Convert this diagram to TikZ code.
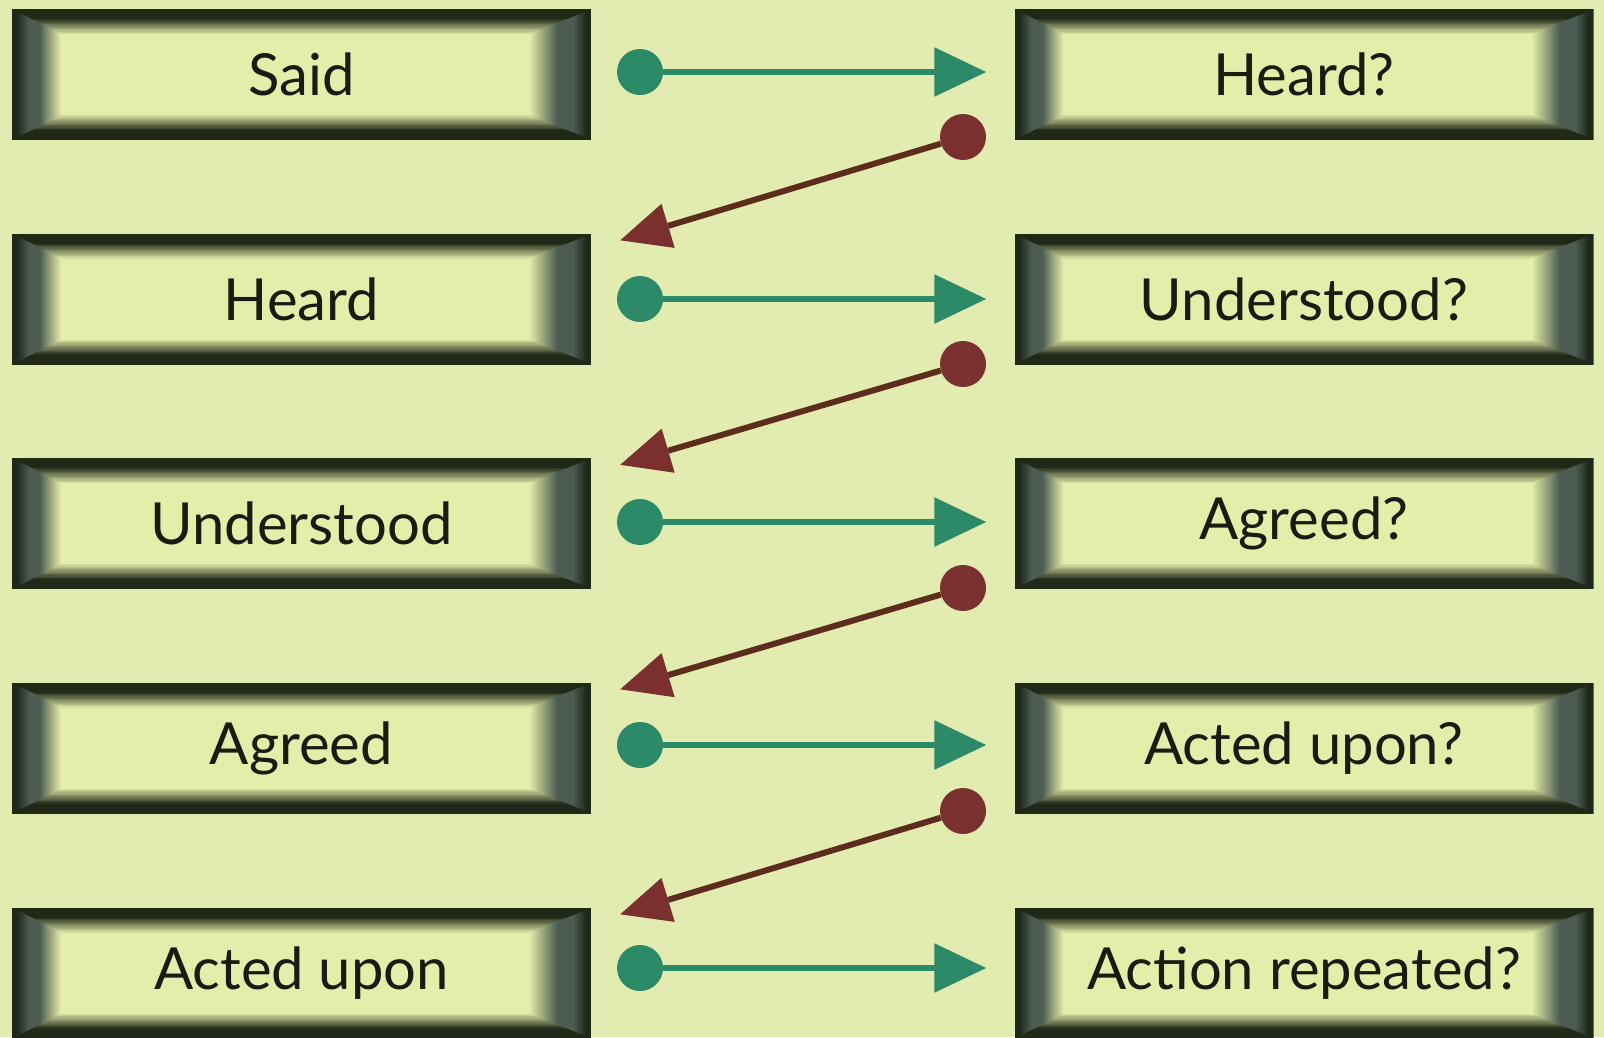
\documentclass[tikz,border=0pt]{standalone}
\usepackage{fontspec}
\setmainfont{Lato}
\usetikzlibrary{arrows.meta}
\definecolor{bg}{RGB}{226,235,176}
\definecolor{innerc}{RGB}{229,237,170}
\definecolor{framec}{RGB}{32,40,24}
\definecolor{sideA}{RGB}{34,44,34}
\definecolor{sideB}{RGB}{76,92,82}
\definecolor{txt}{RGB}{24,28,18}
\definecolor{grn}{RGB}{44,138,104}
\definecolor{brn}{RGB}{122,48,46}
\definecolor{brnline}{RGB}{92,44,28}
\pgfdeclarehorizontalshading{myleftside}{100bp}{color(0bp)=(sideA); color(25bp)=(sideA); color(38bp)=(sideB); color(50bp)=(sideB); color(75bp)=(innerc); color(100bp)=(innerc)}
\pgfdeclarehorizontalshading{myrightside}{100bp}{color(0bp)=(innerc); color(25bp)=(innerc); color(50bp)=(sideB); color(64bp)=(sideB); color(75bp)=(sideA); color(100bp)=(sideA)}
\newcommand\myGradFrame{%
  \foreach \i in {0,...,20}{%
    \pgfmathsetmacro\myfr{\i/20}%
    \pgfmathsetmacro\myg{max(0,(\myfr-0.35)/0.65)}%
    \pgfmathtruncatemacro\mypc{min(100,100*\myg)}%
    \colorlet{fc}{innerc!\mypc!framec}%
    \fill[fc] ([shift={(47*\myfr,25*\myfr)}]path picture bounding box.north west) rectangle ([shift={(-60*\myfr,-25*\myfr)}]path picture bounding box.south east);
  }%
  \shade[shading=myleftside]
    ([shift={(6,3)}]path picture bounding box.north west) --
    ([shift={(49,25)}]path picture bounding box.north west) --
    ([shift={(49,-25)}]path picture bounding box.south west) --
    ([shift={(6,-3)}]path picture bounding box.south west) -- cycle;
  \shade[shading=myrightside]
    ([shift={(-6,3)}]path picture bounding box.north east) --
    ([shift={(-62,25)}]path picture bounding box.north east) --
    ([shift={(-62,-25)}]path picture bounding box.south east) --
    ([shift={(-6,-3)}]path picture bounding box.south east) -- cycle;
}
\tikzset{
  box/.style={minimum width=579pt, minimum height=131pt, inner sep=0pt,
    font=\fontsize{58}{60}\selectfont, text=txt, path picture={\myGradFrame}},
  gdot/.style={circle, fill=grn, minimum size=46pt, inner sep=0pt},
  bdot/.style={circle, fill=brn, minimum size=46pt, inner sep=0pt},
  garrow/.style={draw=grn, line width=6pt, shorten >=28pt, -{Triangle[length=52pt,width=48pt]}},
  barrow/.style={draw=brnline, line width=6pt, -{Triangle[length=50pt,width=46pt,color=brn,line width=0pt]}}
}
\begin{document}
\begin{tikzpicture}[x=1pt,y=-1pt]
\fill[bg] (0,0) rectangle (1604,1037);
\useasboundingbox (0,0) rectangle (1604,1037);
% left boxes
\node[box] (L1) at (301.5,74.5) {Said};
\node[box] (L2) at (301.5,299) {Heard};
\node[box] (L3) at (301.5,523.5) {Understood};
\node[box] (L4) at (301.5,748) {Agreed};
\node[box] (L5) at (301.5,973) {Acted upon};
% right boxes
\node[box] (R1) at (1304,74.5) {Heard?};
\node[box] (R2) at (1304,299) {Understood?};
\node[box] (R3) at (1304,523.5) {Agreed?};
\node[box] (R4) at (1304,748) {Acted upon?};
\node[box] (R5) at (1304,973) {Action repeated?};
% green dots and arrows
\foreach \k/\y in {1/72,2/299,3/522,4/745,5/968}{
  \node[gdot] (g\k) at (640,\y) {};
  \draw[garrow] (g\k) -- (g\k -| R\k.west);
}
% brown dots and arrows
\foreach \k/\n/\y in {1/2/137,2/3/364,3/4/588,4/5/811}{
  \node[bdot] (b\k) at (963,\y) {};
  \draw[barrow] (b\k) -- ([shift={(29,7)}]L\n.north east);
}
\end{tikzpicture}
\end{document}
